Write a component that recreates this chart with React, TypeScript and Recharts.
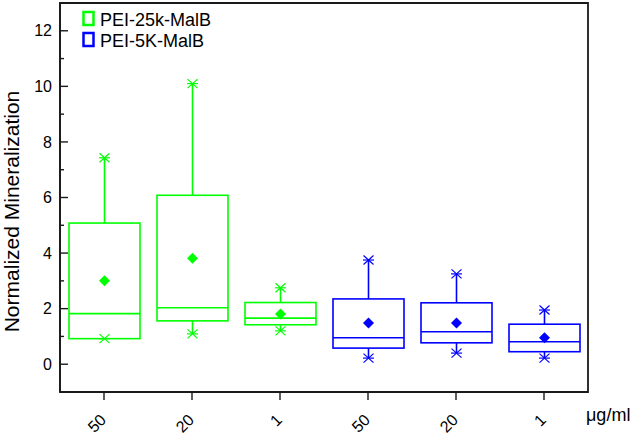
import React from 'react';
import { BarChart, Bar, XAxis, YAxis, ReferenceArea } from 'recharts';

const categories = ['50', '20', '1', '50', '20', '1'];
const groupIndex = [0, 0, 0, 1, 1, 1];
const seriesNames = ['PEI-25k-MalB', 'PEI-5K-MalB'];
const seriesColors = ['#00ff00', '#0000ff'];

const whiskerLow = [0.92, 1.09, 1.2, 0.22, 0.4, 0.22];
const q1 = [0.92, 1.56, 1.42, 0.58, 0.77, 0.45];
const median = [1.82, 2.03, 1.66, 0.95, 1.17, 0.81];
const q3 = [5.08, 6.08, 2.22, 2.35, 2.21, 1.44];
const whiskerHigh = [7.43, 10.1, 2.75, 3.75, 3.25, 1.95];
const mean = [3.0, 3.81, 1.81, 1.48, 1.48, 0.95];

const yTicks = [0, 1, 2, 3, 4, 5, 6, 7, 8, 9, 10, 11, 12];
const yDomain = [-1, 13];
const unitLabel = 'μg/ml';
const yTitle = 'Normalized Mineralization';

const FONT = "Arial, 'Liberation Sans', sans-serif";
const FRAME = '#1a1a1a';

const data = categories.map((c, i) => ({
  key: `${groupIndex[i]}-${c}-${i}`,
  range: [whiskerLow[i], whiskerHigh[i]],
  lo: whiskerLow[i],
  q1: q1[i],
  med: median[i],
  q3: q3[i],
  hi: whiskerHigh[i],
  mean: mean[i],
  color: seriesColors[groupIndex[i]],
}));

const Star = ({ cx, cy, color }: any) => (
  <g stroke={color} strokeWidth={1.2}>
    <line x1={cx - 5} y1={cy - 4.5} x2={cx + 5} y2={cy + 4.5} />
    <line x1={cx - 5} y1={cy + 4.5} x2={cx + 5} y2={cy - 4.5} />
    <line x1={cx - 5.5} y1={cy} x2={cx + 5.5} y2={cy} />
  </g>
);

const BoxShape = (props: any) => {
  const { x, y, width, height, payload } = props;
  if (!payload || width == null) return null;
  const top = Math.min(y, y + height);
  const h = Math.abs(height);
  const k = h / (payload.hi - payload.lo);
  const toY = (v: number) => top + (payload.hi - v) * k;
  const cx = x + width / 2;
  const c = payload.color;
  const yHi = toY(payload.hi);
  const yQ3 = toY(payload.q3);
  const yMed = toY(payload.med);
  const yQ1 = toY(payload.q1);
  const yLo = toY(payload.lo);
  const yMean = toY(payload.mean);
  const d = 5.5;
  return (
    <g>
      <line x1={cx} x2={cx} y1={yHi} y2={yQ3} stroke={c} strokeWidth={1.6} />
      <line x1={cx} x2={cx} y1={yQ1} y2={yLo} stroke={c} strokeWidth={1.6} />
      <rect x={x} y={yQ3} width={width} height={yQ1 - yQ3} fill="none" stroke={c} strokeWidth={1.6} />
      <line x1={x} x2={x + width} y1={yMed} y2={yMed} stroke={c} strokeWidth={1.6} />
      <polygon
        points={`${cx},${yMean - d} ${cx + d},${yMean} ${cx},${yMean + d} ${cx - d},${yMean}`}
        fill={c}
      />
      <Star cx={cx} cy={yHi} color={c} />
      <Star cx={cx} cy={yLo} color={c} />
    </g>
  );
};

const YTick = (props: any) => {
  const { x, y, payload } = props;
  const v = payload.value;
  const major = v % 2 === 0;
  return (
    <g>
      <line x1={x} x2={x + (major ? 8 : 4)} y1={y} y2={y} stroke={FRAME} strokeWidth={1.4} />
      {major && (
        <text x={x - 8} y={y} dy="0.35em" textAnchor="end" fontSize={16} fontFamily={FONT} fill="#000">
          {v}
        </text>
      )}
    </g>
  );
};

const XTick = (props: any) => {
  const { x, y, payload, index } = props;
  const i = payload && payload.index != null ? payload.index : index;
  const px = x + 3;
  const py = y + 21;
  return (
    <g transform={`translate(${px} ${py}) rotate(-45)`}>
      <text x={0} y={0} textAnchor="end" fontSize={16} fontFamily={FONT} fill="#000">
        {categories[i]}
      </text>
    </g>
  );
};

const YLabel = (props: any) => {
  const vb = props.viewBox || {};
  const lx = (vb.x ?? 0) + 18.5;
  const ly = (vb.y ?? 0) + (vb.height ?? 0) / 2 + 14;
  return (
    <text
      x={lx}
      y={ly}
      transform={`rotate(-90 ${lx} ${ly})`}
      textAnchor="middle"
      fontSize={21}
      fontFamily={FONT}
      fill="#000"
    >
      {yTitle}
    </text>
  );
};

const XUnitLabel = (props: any) => {
  const vb = props.viewBox || {};
  const lx = (vb.x ?? 0) + (vb.width ?? 0) - 2;
  const ly = (vb.y ?? 0) + 29;
  return (
    <text x={lx} y={ly} textAnchor="start" fontSize={18} fontFamily={FONT} fill="#000">
      {unitLabel}
    </text>
  );
};

export default function App() {
  return (
    <div style={{ position: 'absolute', left: 0, top: 0, width: 638, height: 438, background: '#fff' }}>
      <BarChart
        width={638}
        height={438}
        data={data}
        margin={{ top: 3, right: 50, bottom: 0, left: 0 }}
        barSize={71}
      >
        <XAxis
          dataKey="key"
          type="category"
          height={46}
          axisLine={{ stroke: FRAME, strokeWidth: 1.6 }}
          tickLine={{ stroke: FRAME, strokeWidth: 1.4 }}
          tickSize={8}
          tickMargin={0}
          interval={0}
          tick={<XTick />}
          label={{ content: <XUnitLabel /> } as any}
        />
        <YAxis
          type="number"
          domain={yDomain}
          ticks={yTicks}
          interval={0}
          allowDataOverflow
          width={60}
          tickSize={0}
          tickMargin={0}
          axisLine={{ stroke: FRAME, strokeWidth: 1.6 }}
          tickLine={false}
          tick={<YTick />}
          label={{ content: <YLabel /> } as any}
        />
        <ReferenceArea
          y1={yDomain[0]}
          y2={yDomain[1]}
          fill="none"
          fillOpacity={0}
          stroke={FRAME}
          strokeWidth={1.8}
          ifOverflow="visible"
        />
        <Bar dataKey="range" shape={<BoxShape />} isAnimationActive={false} />
      </BarChart>
      <svg
        width={260}
        height={60}
        style={{ position: 'absolute', left: 0, top: 0, pointerEvents: 'none' }}
      >
        {seriesNames.map((name, i) => (
          <g key={name}>
            <rect
              x={83.5}
              y={12 + i * 21}
              width={10}
              height={13}
              fill="none"
              stroke={seriesColors[i]}
              strokeWidth={2.5}
            />
            <text x={100} y={26 + i * 21} fontSize={18} fontFamily={FONT} fill="#000">
              {name}
            </text>
          </g>
        ))}
      </svg>
    </div>
  );
}
